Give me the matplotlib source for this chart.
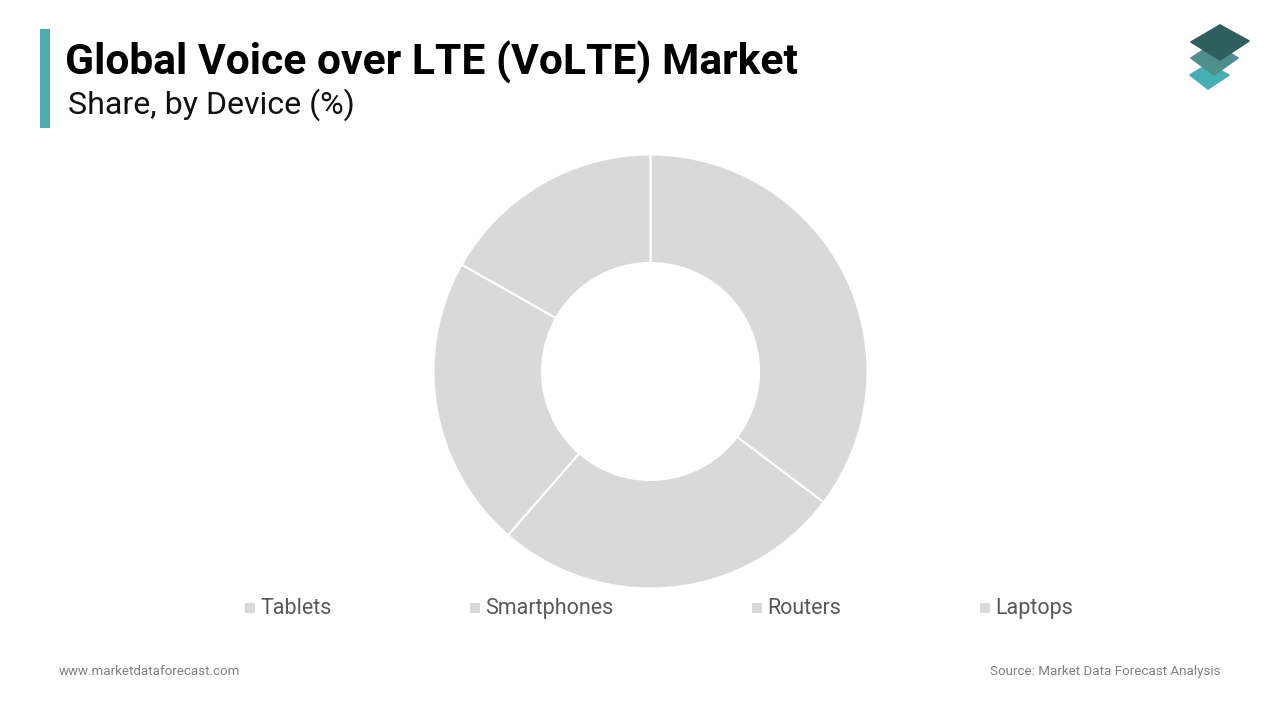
#!/usr/bin/env python3
"""Global VoLTE market share donut"""
import matplotlib
matplotlib.use('Agg')
import matplotlib.pyplot as plt
from matplotlib.patches import Polygon, Rectangle

plt.rcParams['font.family'] = ['Roboto', 'DejaVu Sans']

# data
devices = ['Tablets', 'Smartphones', 'Routers', 'Laptops']
shares = [35.3, 26.1, 21.8, 16.8]
legend_x = [245, 470, 752, 980]

fig = plt.figure(figsize=(12.8, 7.2), dpi=100, facecolor='white')

# overlay in pixel coordinates for header, legend and footer
bg = fig.add_axes([0, 0, 1, 1])
bg.set_xlim(0, 1280)
bg.set_ylim(720, 0)
bg.axis('off')

# header
bg.add_patch(Rectangle((40, 29), 10, 99, color='#4BADAE', lw=0))
bg.text(65, 75, 'Global Voice over LTE (VoLTE) Market', fontsize=30.7,
        fontweight='bold', color='black', va='baseline', ha='left')
bg.text(67.5, 113.6, 'Share, by Device (%)', fontsize=23.1, color='#111111',
        va='baseline', ha='left')

# logo
def logo_layer(points, color):
    bg.add_patch(Polygon(points, closed=True, facecolor=color, edgecolor=color,
                         lw=1.2, joinstyle='round'))

logo_layer([(1190, 75), (1208, 64), (1229, 75), (1208, 89)], '#45B0B2')
logo_layer([(1191, 58), (1214, 43), (1238, 58), (1214, 75)], '#4E8F8D')
logo_layer([(1191, 42), (1220, 25), (1249, 41), (1220, 60)], '#2F5F5D')

# donut
ax = fig.add_axes([(650.5 - 225) / 1280, 1 - (371.5 + 225) / 720, 450 / 1280, 450 / 720])
ax.pie(shares, startangle=90, counterclock=False, radius=1.0,
       colors=['#D9D9D9'] * len(shares),
       wedgeprops={'width': 0.5, 'edgecolor': 'white', 'linewidth': 1.5})
ax.set_xlim(-225 / 217, 225 / 217)
ax.set_ylim(-225 / 217, 225 / 217)
ax.set_aspect('equal')

# legend
for name, x in zip(devices, legend_x):
    bg.add_patch(Rectangle((x, 603), 9.5, 9.5, color='#D9D9D9', lw=0))
    bg.text(x + 15.5, 614, name, fontsize=15.5, color='#595959', va='baseline', ha='left')

# footer
bg.text(59, 675, 'www.marketdataforecast.com', fontsize=9.6, color='#808080',
        va='baseline', ha='left')
bg.text(1220, 675, 'Source: Market Data Forecast Analysis', fontsize=9.6, color='#808080',
        va='baseline', ha='right')

fig.savefig('out.png', dpi=100)
